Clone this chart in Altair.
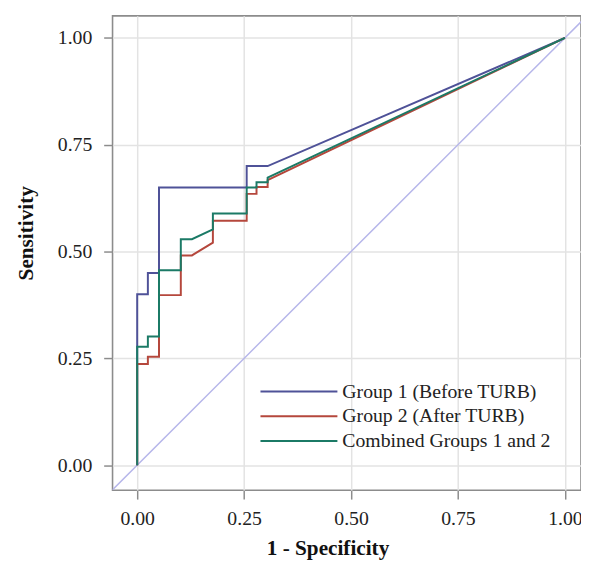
import altair as alt
import pandas as pd

series_names = ["Group 1 (Before TURB)", "Group 2 (After TURB)", "Combined Groups 1 and 2"]
series_colors = ["#4f5298", "#b5473c", "#1b7a66"]

g1_fpr = [0, 0, 0.025, 0.025, 0.051, 0.051, 0.256, 0.256, 0.305, 1]
g1_tpr = [0, 0.40, 0.40, 0.45, 0.45, 0.65, 0.65, 0.70, 0.70, 1]

g2_fpr = [0, 0, 0.025, 0.025, 0.051, 0.051, 0.102, 0.102, 0.128, 0.177, 0.177,
          0.256, 0.256, 0.279, 0.279, 0.305, 0.305, 1]
g2_tpr = [0, 0.237, 0.237, 0.254, 0.254, 0.398, 0.398, 0.491, 0.491, 0.521, 0.572,
          0.572, 0.635, 0.635, 0.651, 0.651, 0.667, 1]

gc_fpr = [0, 0, 0.025, 0.025, 0.051, 0.051, 0.102, 0.102, 0.128, 0.177, 0.177,
          0.256, 0.256, 0.279, 0.279, 0.305, 0.305, 1]
gc_tpr = [0, 0.277, 0.277, 0.301, 0.301, 0.456, 0.456, 0.529, 0.529, 0.552, 0.589,
          0.589, 0.650, 0.650, 0.662, 0.662, 0.673, 1]

ref_fpr = [-0.1, 1.1]
ref_tpr = [-0.1, 1.1]

tick_values = [0, 0.25, 0.5, 0.75, 1.0]

rows = []
for name, xs, ys in zip(series_names, [g1_fpr, g2_fpr, gc_fpr], [g1_tpr, g2_tpr, gc_tpr]):
    for i, (a, b) in enumerate(zip(xs, ys)):
        rows.append({"series": name, "fpr": a, "tpr": b, "step": i})
df = pd.DataFrame(rows)
diag = pd.DataFrame({"fpr": ref_fpr, "tpr": ref_tpr})

xscale = alt.Scale(domain=[-0.0576, 1.0376], nice=False, zero=False)
yscale = alt.Scale(domain=[-0.0586, 1.0517], nice=False, zero=False)

FONT = "Liberation Serif"

x_axis = alt.Axis(values=tick_values, format=".2f", title="1 - Specificity",
                  titleX=218, titlePadding=9, labelPadding=10)
y_axis = alt.Axis(values=tick_values, format=".2f", title="Sensitivity",
                  titleY=220, titlePadding=20, labelPadding=12)

diag_line = alt.Chart(diag).mark_line(clip=True, color="#b6b6ea", strokeWidth=1.5).encode(
    x=alt.X("fpr:Q", scale=xscale, axis=x_axis),
    y=alt.Y("tpr:Q", scale=yscale, axis=y_axis),
)

roc = alt.Chart(df).mark_line(strokeWidth=2, clip=True).encode(
    x=alt.X("fpr:Q", scale=xscale, axis=x_axis),
    y=alt.Y("tpr:Q", scale=yscale, axis=y_axis),
    color=alt.Color("series:N",
                    scale=alt.Scale(domain=series_names, range=series_colors),
                    sort=series_names,
                    legend=alt.Legend(title=None, orient="none", legendX=149, legendY=370,
                                      symbolType="stroke", symbolSize=6084,
                                      symbolStrokeWidth=2, clipHeight=22, rowPadding=3,
                                      labelOffset=4, labelLimit=400, padding=0)),
    order=alt.Order("step:Q"),
)

chart = alt.layer(diag_line, roc).properties(
    width=475, height=481,
    background="white",
    autosize=alt.AutoSizeParams(type="none"),
    padding={"left": 106, "top": 4, "right": 0, "bottom": 81},
).configure_view(
    stroke="#8c8c8c", strokeWidth=1.6
).configure_axis(
    domain=False,
    grid=True, gridColor="#e3e3e3", gridWidth=1.5,
    tickColor="#8c8c8c", tickSize=9, tickWidth=1.5,
    labelFont=FONT, labelFontSize=20, labelColor="#222222",
    titleFont=FONT, titleFontSize=21.5, titleFontWeight="bold", titleColor="#111111",
).configure_legend(
    labelFont=FONT, labelFontSize=20, labelColor="#222222",
)

chart.save("out.html", embed_options={"renderer": "svg", "actions": False})
